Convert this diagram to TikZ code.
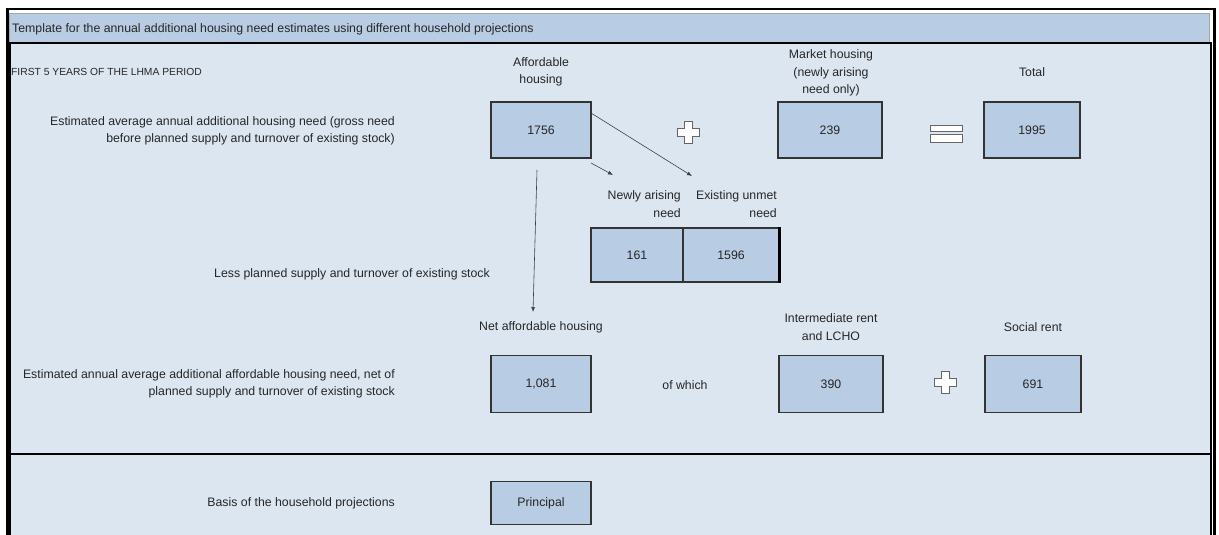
\documentclass[tikz,border=0pt]{standalone}
\usepackage{fontspec}
\setmainfont{Liberation Sans}
\usetikzlibrary{arrows.meta}
\definecolor{hdrblue}{RGB}{184,204,228}
\definecolor{panelblue}{RGB}{220,230,241}
\definecolor{boxblue}{RGB}{184,204,228}
\definecolor{inkgray}{RGB}{38,38,38}

\begin{document}
\begin{tikzpicture}[x=1pt,y=-1pt,
		every node/.style={text=inkgray, font=\fontsize{12.3}{17.5}\selectfont, inner sep=0pt},
		lbl/.style={align=center},
		desc/.style={anchor=east, align=right},
		valbox/.style={draw=black!80, line width=1.2pt, fill=boxblue, minimum width=100pt, minimum height=56pt},
		arr/.style={-{Latex[length=5pt,width=4pt]}, draw=black!75, line width=0.6pt},
		plussign/.pic={\draw[gray!80!black, fill=white, line width=0.9pt]
			(-4,-11) -- (4,-11) -- (4,-4) -- (11,-4) -- (11,4) -- (4,4) -- (4,11)
			-- (-4,11) -- (-4,4) -- (-11,4) -- (-11,-4) -- (-4,-4) -- cycle;},
		eqsign/.pic={\draw[gray!80!black, fill=white, line width=1pt]
			(-16,-8) rectangle (16,-2) (-16,1) rectangle (16,9);}]
	\useasboundingbox (0,0) rectangle (1219,535);
	\clip (0,0) rectangle (1219,535);
	\fill[white] (0,0) rectangle (1219,535);
	\draw[line width=2.5pt] (7.5,560) -- (7.5,9) -- (1214.5,9) -- (1214.5,560);
	\draw[fill=hdrblue, draw=gray!70, line width=0.8pt] (9.5,13) rectangle (1209,42);
	\draw[fill=panelblue, line width=2pt] (9.5,43) rectangle (1211,454);
	\draw[fill=panelblue, line width=2pt] (9.5,454) rectangle (1211,560);

	\node[anchor=west] (hdr) at (12,29) {Template for the annual additional housing need estimates using different household projections};
	\node[anchor=west, font=\fontsize{10.3}{12}\selectfont] (period) at (11,72) {FIRST 5 YEARS OF THE LHMA PERIOD};

	\node[desc] (gross) at (395,131) {Estimated average annual additional housing need (gross need\\before planned supply and turnover of existing stock)};
	\node[lbl] (afflab) at (541,72) {Affordable\\housing};
	\node[valbox] (aff) at (541,130) {1756};
	\pic at (688,132) {plussign};
	\node[lbl] (mktlab) at (831,73) {Market housing\\(newly arising\\need only)};
	\node[valbox, minimum width=104pt] (mkt) at (830,130) {239};
	\pic at (946,133) {eqsign};
	\node[lbl] (totlab) at (1032,72) {Total};
	\node[valbox, minimum width=96pt] (tot) at (1032,130) {1995};

	\node[desc] (newlab) at (681,204) {Newly arising\\need};
	\node[desc] (exlab) at (777,204) {Existing unmet\\need};
	\node[valbox, minimum width=92pt, minimum height=54pt] (new) at (637,255) {161};
	\node[valbox, minimum width=96pt, minimum height=54pt] (ex) at (731,255) {1596};
	\draw[line width=2.4pt] (ex.north east) -- (ex.south east);
	\node (less) at (352,274) {Less planned supply and turnover of existing stock};

	\coordinate (dropA) at (537,170);
	\coordinate (dropB) at (533,312);
	\coordinate (newA) at (591,163);
	\coordinate (newB) at (613,175);
	\coordinate (exA) at (591,113);
	\coordinate (exB) at (692,176);
	\draw[arr] (dropA) -- (dropB);
	\draw[arr] (newA) -- (newB);
	\draw[arr] (exA) -- (exB);

	\node[desc] (netdesc) at (395,384) {Estimated annual average additional affordable housing need, net of\\planned supply and turnover of existing stock};
	\node[lbl] (netlab) at (541,327) {Net affordable housing};
	\node[valbox, minimum height=57pt] (net) at (541,384) {1,081};
	\node (ofwhich) at (685,385) {of which};
	\node[lbl] (intlab) at (831,327) {Intermediate rent\\and LCHO};
	\node[valbox, minimum width=104pt, minimum height=57pt] (int) at (831,384) {390};
	\pic at (945,382) {plussign};
	\node[lbl] (soclab) at (1033,327) {Social rent};
	\node[valbox, minimum width=96pt, minimum height=57pt] (soc) at (1033,384) {691};

	\node[desc] (basis) at (395,503) {Basis of the household projections};
	\node[valbox, minimum height=43pt] (basisval) at (541,503) {Principal};
\end{tikzpicture}
\end{document}
